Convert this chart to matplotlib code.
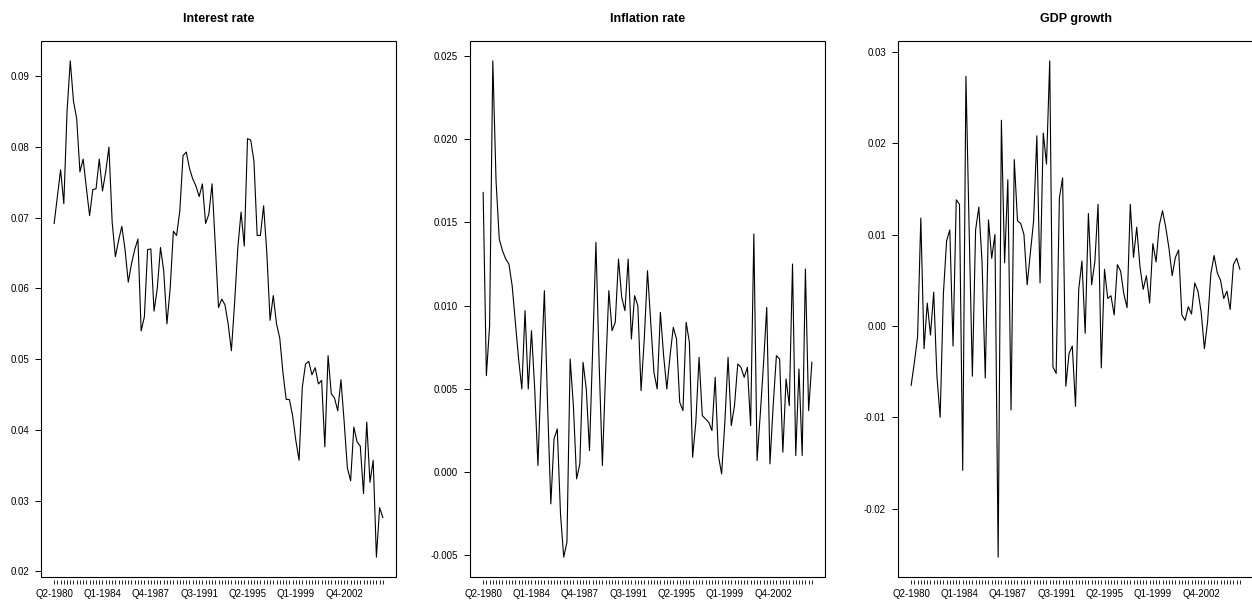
import numpy as np
import pandas as pd
import matplotlib
matplotlib.use("Agg")
import matplotlib.pyplot as plt
from matplotlib.patches import Rectangle
from matplotlib.ticker import FormatStrFormatter

plt.rcParams["font.family"] = ["Liberation Sans", "DejaVu Sans"]
plt.rcParams["axes.unicode_minus"] = False

# quarterly series, Q2-1980 onwards
interest_rate = [
    0.0692, 0.0730, 0.0768, 0.0720, 0.0850, 0.0922, 0.0865, 0.0840, 0.0765, 0.0783,
    0.0742, 0.0703, 0.0740, 0.0741, 0.0783, 0.0738, 0.0765, 0.0800, 0.0694, 0.0645,
    0.0668, 0.0688, 0.0655, 0.0609, 0.0635, 0.0655, 0.0670, 0.0540, 0.0560, 0.0655,
    0.0656, 0.0568, 0.0600, 0.0658, 0.0625, 0.0550, 0.0600, 0.0681, 0.0675, 0.0710,
    0.0788, 0.0793, 0.0770, 0.0755, 0.0745, 0.0730, 0.0748, 0.0692, 0.0705, 0.0748,
    0.0662, 0.0573, 0.0585, 0.0577, 0.0550, 0.0512, 0.0580, 0.0658, 0.0708, 0.0660,
    0.0812, 0.0810, 0.0780, 0.0675, 0.0675, 0.0717, 0.0650, 0.0555, 0.0590, 0.0550,
    0.0530, 0.0481, 0.0443, 0.0443, 0.0420, 0.0385, 0.0357, 0.0460, 0.0493, 0.0497,
    0.0478, 0.0488, 0.0465, 0.0470, 0.0376, 0.0505, 0.0451, 0.0445, 0.0427, 0.0471,
    0.0411, 0.0346, 0.0328, 0.0404, 0.0383, 0.0377, 0.0310, 0.0411, 0.0326, 0.0357,
    0.0220, 0.0290, 0.0276,
]

inflation_rate = [
    0.0168, 0.0058, 0.0088, 0.0247, 0.0175, 0.0140, 0.0133, 0.0128, 0.0125, 0.0112,
    0.0090, 0.0068, 0.0050, 0.0097, 0.0050, 0.0085, 0.0050, 0.0004, 0.0060, 0.0109,
    0.0040, -0.0019, 0.0020, 0.0026, -0.0025, -0.0051, -0.0042, 0.0068, 0.0040, -0.0004,
    0.0005, 0.0066, 0.0050, 0.0013, 0.0075, 0.0138, 0.0065, 0.0004, 0.0060, 0.0109,
    0.0085, 0.0090, 0.0128, 0.0105, 0.0097, 0.0128, 0.0080, 0.0106, 0.0100, 0.0049,
    0.0080, 0.0121, 0.0090, 0.0060, 0.0050, 0.0096, 0.0070, 0.0050, 0.0070, 0.0087,
    0.0080, 0.0042, 0.0037, 0.0090, 0.0078, 0.0009, 0.0030, 0.0069, 0.0034, 0.0032,
    0.0030, 0.0025, 0.0057, 0.0010, -0.0001, 0.0030, 0.0069, 0.0028, 0.0040, 0.0065,
    0.0063, 0.0057, 0.0063, 0.0028, 0.0143, 0.0007, 0.0035, 0.0065, 0.0099, 0.0005,
    0.0040, 0.0070, 0.0068, 0.0012, 0.0056, 0.0040, 0.0125, 0.0010, 0.0062, 0.0010,
    0.0122, 0.0037, 0.0066,
]

gdp_growth = [
    -0.0065, -0.0040, -0.0012, 0.0118, -0.0025, 0.0025, -0.0010, 0.0037, -0.0055, -0.0100,
    0.0035, 0.0093, 0.0105, -0.0022, 0.0138, 0.0133, -0.0158, 0.0273, 0.0105, -0.0055,
    0.0105, 0.0130, 0.0070, -0.0057, 0.0116, 0.0074, 0.0100, -0.0253, 0.0225, 0.0069,
    0.0160, -0.0092, 0.0182, 0.0115, 0.0112, 0.0100, 0.0045, 0.0080, 0.0115, 0.0208,
    0.0047, 0.0211, 0.0177, 0.0290, -0.0045, -0.0052, 0.0140, 0.0162, -0.0066, -0.0030,
    -0.0022, -0.0088, 0.0040, 0.0071, -0.0008, 0.0123, 0.0045, 0.0070, 0.0133, -0.0046,
    0.0062, 0.0030, 0.0033, 0.0012, 0.0067, 0.0060, 0.0035, 0.0020, 0.0133, 0.0075,
    0.0108, 0.0065, 0.0040, 0.0055, 0.0025, 0.0090, 0.0070, 0.0110, 0.0126, 0.0108,
    0.0085, 0.0055, 0.0075, 0.0083, 0.0012, 0.0006, 0.0021, 0.0013, 0.0047, 0.0038,
    0.0015, -0.0025, 0.0005, 0.0057, 0.0077, 0.0058, 0.0050, 0.0030, 0.0038, 0.0018,
    0.0067, 0.0074, 0.0062,
]

titles = ["Interest rate", "Inflation rate", "GDP growth"]
y_ticks = [
    [0.02, 0.03, 0.04, 0.05, 0.06, 0.07, 0.08, 0.09],
    [-0.005, 0.0, 0.005, 0.010, 0.015, 0.020, 0.025],
    [-0.02, -0.01, 0.0, 0.01, 0.02, 0.03],
]
y_formats = ["%.2f", "%.3f", "%.2f"]

quarters = pd.period_range("1980Q2", periods=len(interest_rate), freq="Q")
quarter_labels = [f"Q{p.quarter}-{p.year}" for p in quarters]
label_every = 15

W, H = 1252, 601
fig = plt.figure(figsize=(W / 100, H / 100), dpi=100)
lefts = [41, 470, 898]

for left, title, values, yt, fmt in zip(lefts, titles,
                                        [interest_rate, inflation_rate, gdp_growth],
                                        y_ticks, y_formats):
    ax = fig.add_axes([left / W, 24 / H, 355 / W, 536 / H])
    x = np.arange(len(values))
    ax.plot(x, values, color="black", lw=0.8)
    ax.margins(x=0.04, y=0.04)

    ax.set_xticks(x)
    ax.set_xticklabels([lab if i % label_every == 0 else ""
                        for i, lab in enumerate(quarter_labels)])
    ax.set_yticks(yt)
    ax.yaxis.set_major_formatter(FormatStrFormatter(fmt))
    ax.tick_params(axis="x", length=3, width=0.6, pad=3.5, labelsize=7)
    ax.tick_params(axis="y", length=4.3, width=0.7, pad=4.3, labelsize=7)

    # R-style frame, x ticks hang a little below it
    for side in ax.spines:
        ax.spines[side].set_visible(False)
    ax.spines["bottom"].set_position(("outward", 2))
    ax.add_patch(Rectangle((0, 0), 1, 1, transform=ax.transAxes, fill=False,
                           lw=0.8, edgecolor="black", clip_on=False))
    ax.set_title(title, fontsize=9, fontweight="bold", pad=14)

fig.savefig("out.png", dpi=100)
